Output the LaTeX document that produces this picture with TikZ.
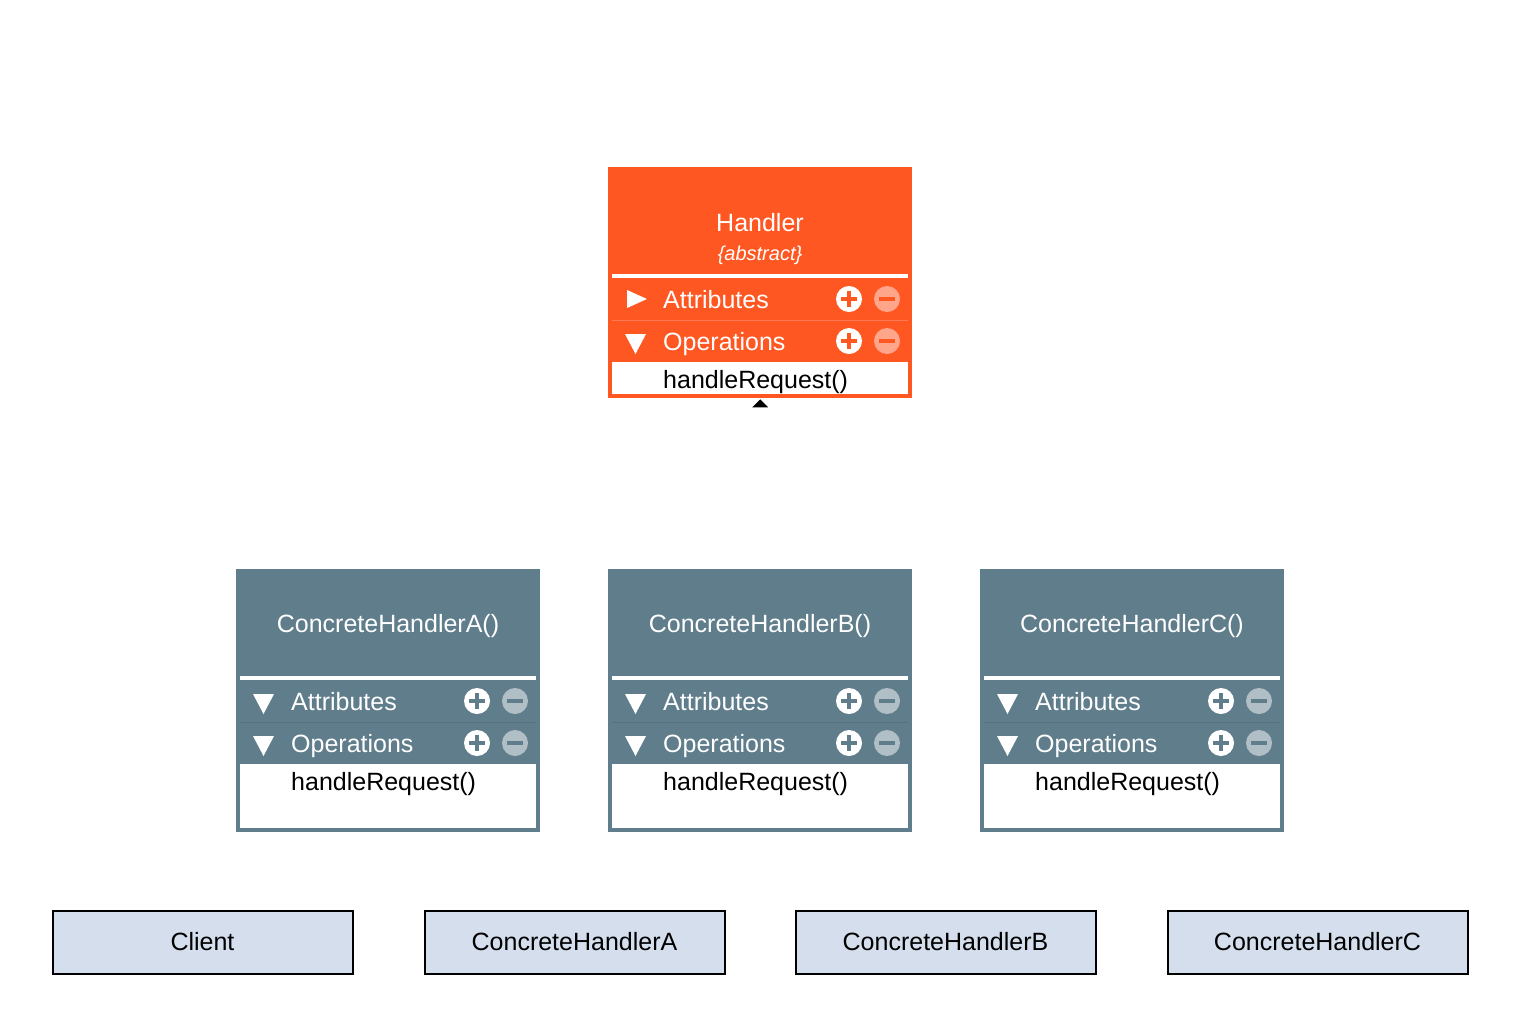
\documentclass[tikz,border=0pt]{standalone}
\usepackage{fontspec}
\setmainfont{Liberation Sans}
\definecolor{handlerorange}{HTML}{FF5722}
\definecolor{handlerlight}{HTML}{FFA58A}
\definecolor{handlerrule}{HTML}{FF7A52}
\definecolor{concretegrey}{HTML}{607D8B}
\definecolor{concretelight}{HTML}{B0BEC5}
\definecolor{concreterule}{HTML}{57717E}
\definecolor{plainblue}{HTML}{D4DEEC}

\tikzset{
  lbl/.style={font=\fontsize{25}{30}\selectfont, inner sep=0, anchor=base west},
  ttl/.style={font=\fontsize{25}{30}\selectfont, inner sep=0, anchor=base, text=white},
  plainbox/.style={draw=black, line width=2pt, fill=plainblue, minimum width=300, minimum height=63,
    inner sep=0, font=\fontsize{25}{30}\selectfont},
}

% one collapsible compartment header: #1 y centre, #2 label, #3 body colour, #4 light colour, #5 triangle kind (r/d)
\newcommand\compartment[5]{%
  \ifx r#5
    \fill[white] (19,{#1-9}) -- (39,#1) -- (19,{#1+9}) -- cycle;
  \else
    \fill[white] (17,{#1-7}) -- (38,{#1-7}) -- (27.5,{#1+13}) -- cycle;
  \fi
  \node[lbl, text=white] at (55,{#1+9}) {#2};
  \fill[white] (241,#1) circle (13);
  \fill[#3] (233,{#1-2}) rectangle (249,{#1+2});
  \fill[#3] (239,{#1-8}) rectangle (243,{#1+8});
  \fill[#4] (279,#1) circle (13);
  \fill[#3] (271,{#1-2}) rectangle (287,{#1+2});
}

% class frame: #1 name, #2 top-left, #3 height, #4 body colour, #5 light colour, #6 rule colour, #7 attribute triangle
\newcommand\classframe[7]{%
  \begin{scope}[shift={#2}]
    \node[fill=#4, minimum width=304, minimum height=#3, anchor=north west, inner sep=0] (#1) at (0,0) {};
    \fill[white] (4,107) rectangle (300,111);
    \draw[#6, line width=1pt] (4,153) -- (300,153);
    \fill[white] (4,195) rectangle (300,{#3-4});
    \compartment{132}{Attributes}{#4}{#5}{#7}
    \compartment{174}{Operations}{#4}{#5}{d}
    \node[lbl] at (55,221) {handleRequest()};
  \end{scope}%
}

\begin{document}
\begin{tikzpicture}[x=1pt, y=-1pt]
  \useasboundingbox (0,0) rectangle (1520,1026);
  \fill[white] (0,0) rectangle (1520,1026);

  % abstract handler
  \classframe{handler}{(608,167)}{231}{handlerorange}{handlerlight}{handlerrule}{r}
  \node[ttl] (handlertitle) at (760,231) {Handler};
  \node[ttl, font=\fontsize{20}{24}\selectfont\itshape] (handlerabstract) at (760,260) {\{abstract\}};
  \fill[black] ([yshift=-1pt]handler.south) -- ++(8,8) -- ++(-16,0) -- cycle;

  % concrete handlers
  \classframe{chA}{(236,569)}{263}{concretegrey}{concretelight}{concreterule}{d}
  \classframe{chB}{(608,569)}{263}{concretegrey}{concretelight}{concreterule}{d}
  \classframe{chC}{(980,569)}{263}{concretegrey}{concretelight}{concreterule}{d}
  \node[ttl] (chAtitle) at (388,632) {ConcreteHandlerA()};
  \node[ttl] (chBtitle) at (760,632) {ConcreteHandlerB()};
  \node[ttl] (chCtitle) at (1132,632) {ConcreteHandlerC()};

  % plain boxes
  \node[plainbox] (client) at (202.5,942) {Client};
  \node[plainbox] (plainA) at (574.5,942) {ConcreteHandlerA};
  \node[plainbox] (plainB) at (945.5,942) {ConcreteHandlerB};
  \node[plainbox] (plainC) at (1317.5,942) {ConcreteHandlerC};
\end{tikzpicture}
\end{document}
